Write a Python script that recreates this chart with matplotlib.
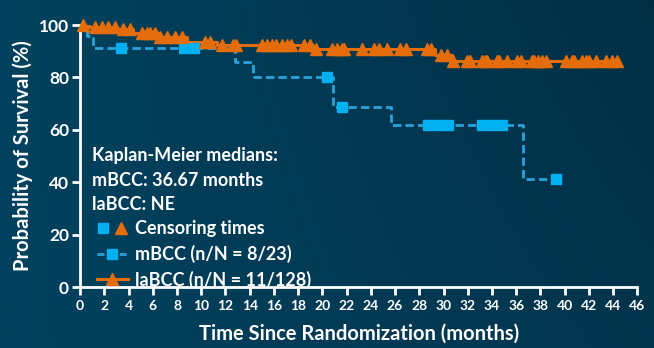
import numpy as np
import matplotlib
matplotlib.use("Agg")
import matplotlib.pyplot as plt
from matplotlib.lines import Line2D
from matplotlib.legend_handler import HandlerTuple

plt.rcParams["font.family"] = ["Lato", "DejaVu Sans"]
plt.rcParams["font.weight"] = "bold"

# Kaplan-Meier steps (months, % surviving)
mbcc_t = [0, 0.6, 1.1, 12.8, 14.3, 20.9, 25.7, 36.6]
mbcc_s = [100, 95.7, 91.3, 86.0, 80.3, 68.8, 62.0, 41.3]
mbcc_end = 39.3
mbcc_cens = [3.4, 8.6, 9.4, 20.4, 21.6, 28.7, 29.6, 30.4, 33.2, 34.0, 34.8, 39.3]

labcc_t = [0, 0.7, 3.0, 4.4, 6.4, 8.8, 11.3, 19.2, 29.3, 30.7]
labcc_s = [100, 99.2, 98.4, 96.9, 95.3, 93.5, 92.2, 90.7, 88.6, 86.3]
labcc_end = 44.5
labcc_cens = [0.25, 1.2, 1.8, 2.3, 2.9, 3.5, 4.1, 5.1, 5.5, 5.8, 6.2, 6.6,
              7.2, 7.8, 8.4, 10.3, 10.7, 11.7, 12.6, 12.9, 15.0, 15.4, 15.8,
              16.2, 16.7, 17.1, 17.4, 18.5, 19.0, 19.5, 20.8, 21.2, 21.6,
              21.8, 23.3, 24.3, 24.7, 25.3, 26.4, 26.9, 28.6, 29.0, 29.8,
              30.3, 30.8, 31.9, 32.2, 33.2, 33.4, 33.6, 34.4, 34.6, 35.2,
              36.1, 36.4, 37.3, 37.5, 37.8, 38.1, 38.5, 40.1, 40.6, 40.8,
              41.4, 41.8, 42.0, 42.6, 43.4, 43.9, 44.3]

x_ticks = list(range(0, 47, 2))
y_ticks = [0, 20, 40, 60, 80, 100]

BLUE_LINE = "#2aa3dc"
BLUE_MARK = "#00b0f0"
ORANGE = "#e46c0a"
WHITE = "white"


def surv_at(times, surv, pts):
    idx = np.searchsorted(times, pts, side="right") - 1
    return np.asarray(surv)[idx]


fig = plt.figure(figsize=(6.54, 3.48), dpi=100)

# background gradient
bg = fig.add_axes([0, 0, 1, 1], zorder=-10)
gx = np.linspace(0, 1, 256)
gy = np.linspace(0, 1, 64)
G = 0.55 * gx[None, :] + 0.25 * (1 - gy[:, None]) * gx[None, :]
c0 = np.array([0x01, 0x42, 0x5e]) / 255
c1 = np.array([0x01, 0x2a, 0x3e]) / 255
img = c0[None, None, :] * (1 - G[..., None]) + c1[None, None, :] * G[..., None]
bg.imshow(img, aspect="auto", extent=[0, 1, 0, 1])
bg.set_axis_off()

ax = fig.add_axes([0.1225, 0.175, 0.852, 0.753])
ax.set_facecolor("none")

# mBCC
ax.step(mbcc_t + [mbcc_end], mbcc_s + [mbcc_s[-1]], where="post",
        color=BLUE_LINE, lw=2.0, dashes=(3, 1.5), zorder=3)
ax.plot(mbcc_cens, surv_at(mbcc_t, mbcc_s, mbcc_cens), "s", color=BLUE_MARK,
        ms=7.5, zorder=5, clip_on=False)

# laBCC
ax.step(labcc_t + [labcc_end], labcc_s + [labcc_s[-1]], where="post",
        color=ORANGE, lw=2.2, zorder=4)
ax.plot(labcc_cens, surv_at(labcc_t, labcc_s, labcc_cens), "^", color=ORANGE,
        ms=8, zorder=6, clip_on=False)

ax.set_xlim(0, 46)
ax.set_ylim(0, 100)
ax.set_xticks(x_ticks)
ax.set_yticks(y_ticks)
for s in ["top", "right"]:
    ax.spines[s].set_visible(False)
for s in ["left", "bottom"]:
    ax.spines[s].set_color(WHITE)
    ax.spines[s].set_linewidth(2)
ax.tick_params(axis="both", colors=WHITE, width=2, length=6)
ax.tick_params(axis="x", labelsize=10, pad=3)
ax.tick_params(axis="y", labelsize=12.5, pad=2)
for lbl in ax.get_xticklabels() + ax.get_yticklabels():
    lbl.set_fontweight("bold")

ax.set_xlabel("Time Since Randomization (months)", color=WHITE,
              fontsize=14.5, fontweight="bold", labelpad=9)
ax.set_ylabel("Probability of Survival (%)", color=WHITE,
              fontsize=14.5, fontweight="bold", labelpad=4)

ax.text(0.022, 0.535, "Kaplan-Meier medians:\nmBCC: 36.67 months\nlaBCC: NE",
        transform=ax.transAxes, color=WHITE, fontsize=13, fontweight="bold",
        va="top", ha="left", linespacing=1.55)

cens_sq = Line2D([], [], ls="none", marker="s", color=BLUE_MARK, ms=7.5)
cens_tr = Line2D([], [], ls="none", marker="^", color=ORANGE, ms=8)
h_mbcc = Line2D([], [], color=BLUE_LINE, lw=2, dashes=(2.5, 1.5),
                marker="s", mfc=BLUE_MARK, mec=BLUE_MARK, ms=7.5)
h_labcc = Line2D([], [], color=ORANGE, lw=2.2, marker="^", ms=8)
leg = ax.legend([(cens_sq, cens_tr), h_mbcc, h_labcc],
                ["Censoring times", "mBCC (n/N = 8/23)", "laBCC (n/N = 11/128)"],
                handler_map={tuple: HandlerTuple(ndivide=None, pad=0.3)},
                loc="upper left", bbox_to_anchor=(0.03, 0.255),
                borderaxespad=0, borderpad=0, frameon=False,
                handlelength=1.7, handletextpad=0.42, labelspacing=0.42,
                prop={"size": 13, "weight": "bold"})
for t in leg.get_texts():
    t.set_color(WHITE)

fig.savefig("out.png", dpi=100)
